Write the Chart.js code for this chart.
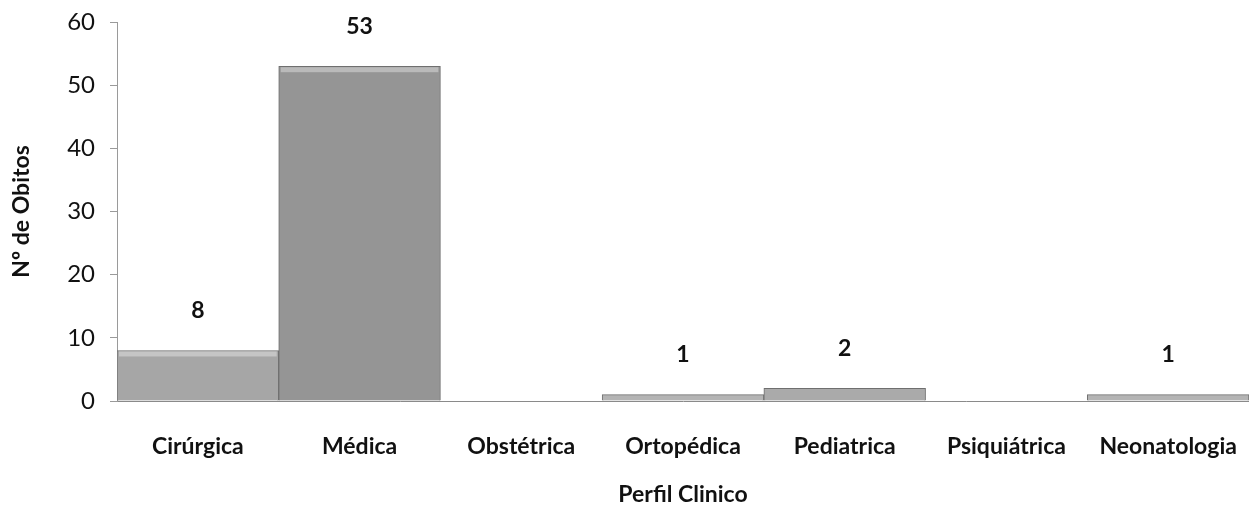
<!DOCTYPE html>
<html>
<head>
<meta charset="utf-8">
<script src="https://cdn.jsdelivr.net/npm/chart.js@4"></script>
<style>
  html, body { margin: 0; padding: 0; background: #fff; }
  #wrap { width: 1249px; height: 508px; }
</style>
</head>
<body>
<div id="wrap"><canvas id="obitosChart" width="1249" height="508"></canvas></div>
<script>
const categories = ["Cirúrgica", "Médica", "Obstétrica", "Ortopédica", "Pediatrica", "Psiquiátrica", "Neonatologia"];
const obitos = [8, 53, 0, 1, 2, 0, 1];
const barColors = ["#a6a6a6", "#959595", "#a5a5a5", "#b4b4b4", "#aaaaaa", "#a5a5a5", "#b4b4b4"];
const yTicks = [0, 10, 20, 30, 40, 50, 60];

const FONT = "Lato, 'Liberation Sans', sans-serif";

// light bevel strip along the top of each bar, then the value above it
const barDecor = {
    id: "barDecor",
    afterDatasetsDraw(chart) {
        const ctx = chart.ctx;
        const meta = chart.getDatasetMeta(0);
        ctx.save();
        meta.data.forEach((bar, i) => {
            const v = obitos[i];
            const h = bar.base - bar.y;
            if (!v || h < 15) return;
            const left = bar.x - bar.width / 2;
            ctx.fillStyle = "rgba(255,255,255,0.35)";
            ctx.fillRect(left + 2, bar.y + 1, bar.width - 4, 5);
        });
        ctx.font = "bold 23px " + FONT;
        ctx.fillStyle = "#111";
        ctx.textAlign = "center";
        ctx.textBaseline = "middle";
        meta.data.forEach((bar, i) => {
            const v = obitos[i];
            if (!v) return;
            ctx.fillText(String(v), bar.x, bar.y - 40);
        });
        ctx.restore();
    }
};

new Chart(document.getElementById("obitosChart"), {
    type: "bar",
    data: {
        labels: categories,
        datasets: [{
            data: obitos,
            backgroundColor: barColors,
            borderColor: "#6f6f6f",
            borderWidth: 1,
            barPercentage: 1,
            categoryPercentage: 1
        }]
    },
    options: {
        responsive: false,
        animation: false,
        layout: { padding: { top: 22, right: 0, left: 0, bottom: 0 } },
        plugins: {
            legend: { display: false },
            tooltip: { enabled: false }
        },
        scales: {
            x: {
                grid: { display: true, drawOnChartArea: false, drawTicks: false, color: "#999" },
                border: { color: "#8a8a8a" },
                ticks: {
                    color: "#111",
                    padding: 32,
                    maxRotation: 0,
                    font: { family: FONT, size: 23, weight: "bold" }
                },
                title: {
                    display: true,
                    text: "Perfil Clinico",
                    color: "#111",
                    padding: { top: 22, bottom: 0 },
                    font: { family: FONT, size: 23, weight: "bold" }
                },
                afterFit(scale) {
                    scale.height = 107;
                    scale.paddingLeft = 0;
                    scale.paddingRight = 0;
                }
            },
            y: {
                min: 0,
                max: 60,
                afterBuildTicks(scale) { scale.ticks = yTicks.map(v => ({ value: v })); },
                grid: { drawOnChartArea: false, tickLength: 7, color: "#9a9a9a" },
                border: { color: "#9a9a9a" },
                ticks: {
                    color: "#111",
                    padding: 15,
                    font: { family: FONT, size: 24 }
                },
                title: {
                    display: true,
                    text: "Nº de Obitos",
                    color: "#111",
                    padding: { top: 8, bottom: 4 },
                    font: { family: FONT, size: 23, weight: "bold" }
                },
                afterFit(scale) {
                    scale.width = 117;
                    scale.paddingTop = 0;
                    scale.paddingBottom = 0;
                }
            }
        }
    },
    plugins: [barDecor]
});
</script>
</body>
</html>
